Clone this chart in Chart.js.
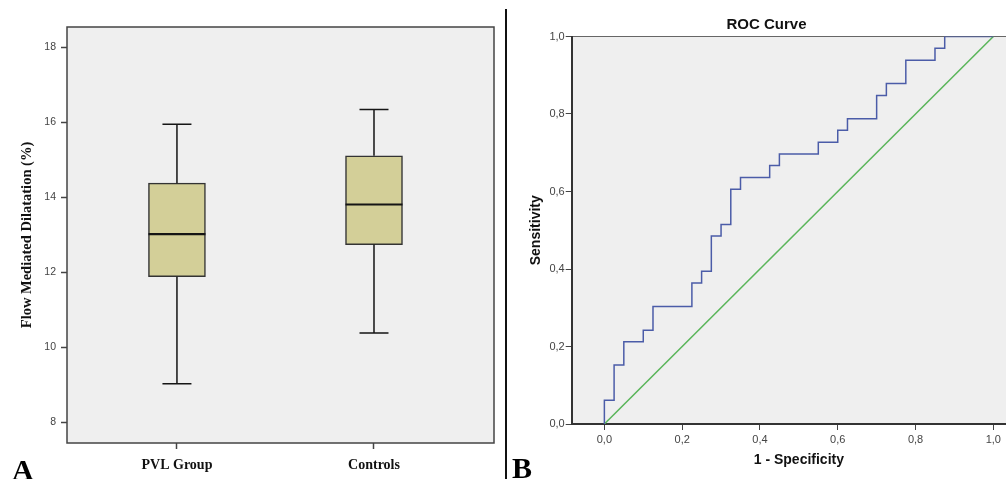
<!DOCTYPE html>
<html>
<head>
<meta charset="utf-8">
<script src="https://cdn.jsdelivr.net/npm/chart.js@4"></script>
<style>
html, body { margin: 0; padding: 0; background: #fff; overflow: hidden; width: 1006px; height: 479px; }
#boxWrap { position: absolute; left: 0; top: 0; width: 500px; height: 479px; }
#rocWrap { position: absolute; left: 507px; top: 0; width: 530px; height: 479px; }
.divider { position: absolute; left: 505px; top: 9px; width: 2px; height: 470px; background: #111; }
.panel { position: absolute; font-family: "Liberation Serif", "Times New Roman", serif; font-weight: bold; font-size: 30px; line-height: 30px; color: #000; }
</style>
</head>
<body>
<div id="boxWrap"><canvas id="boxChart"></canvas></div>
<div id="rocWrap"><canvas id="rocChart"></canvas></div>
<div class="divider"></div>
<div class="panel" style="left:12px; top:455px;">A</div>
<div class="panel" style="left:512px; top:453px;">B</div>
<script>
// panel A - box plot of FMD
const groups = ['PVL Group', 'Controls'];
const groupPos = [1, 2];
const whiskerLow = [9.02, 10.38];
const q1 = [11.88, 12.74];
const median = [13.02, 13.81];
const q3 = [14.38, 15.11];
const whiskerHigh = [15.95, 16.35];
const fmdTicks = [8, 10, 12, 14, 16, 18];

// panel B - ROC curve
const rocFpr = [0, 0, 0.025, 0.05, 0.1, 0.125, 0.225, 0.25, 0.275, 0.3, 0.325, 0.35, 0.425, 0.45, 0.55, 0.6, 0.625, 0.7, 0.725, 0.775, 0.85, 0.875, 1.0];
const rocTpr = [0, 0.061, 0.152, 0.212, 0.242, 0.303, 0.364, 0.394, 0.485, 0.515, 0.606, 0.636, 0.667, 0.697, 0.727, 0.758, 0.788, 0.848, 0.879, 0.939, 0.970, 1.0, 1.0];
const refX = [0, 1];
const refY = [0, 1];
const rocTicks = [0, 0.2, 0.4, 0.6, 0.8, 1.0];

Chart.defaults.font.family = '"Liberation Sans", Arial, sans-serif';
Chart.defaults.animation = false;

const serif = '"Liberation Serif", "Times New Roman", serif';

// grey plot area + frame
const plotBg = {
    id: 'plotBg',
    beforeDraw(chart, args, opts) {
        const { ctx, chartArea: a } = chart;
        ctx.save();
        ctx.fillStyle = opts.color;
        ctx.fillRect(a.left, a.top, a.right - a.left, a.bottom - a.top);
        ctx.strokeStyle = opts.frameColor;
        ctx.lineWidth = opts.frameWidth;
        ctx.strokeRect(a.left, a.top, a.right - a.left, a.bottom - a.top);
        ctx.restore();
    }
};

// whiskers, caps and medians
const whiskers = {
    id: 'whiskers',
    afterDatasetsDraw(chart) {
        const { ctx, scales: { x, y } } = chart;
        const capHalf = 14.5;
        const boxHalf = 28.5;
        ctx.save();
        ctx.strokeStyle = '#151515';
        groupPos.forEach((g, i) => {
            const cx = x.getPixelForValue(g);
            ctx.lineWidth = 1.5;
            ctx.beginPath();
            ctx.moveTo(cx, y.getPixelForValue(q3[i]));
            ctx.lineTo(cx, y.getPixelForValue(whiskerHigh[i]));
            ctx.moveTo(cx, y.getPixelForValue(q1[i]));
            ctx.lineTo(cx, y.getPixelForValue(whiskerLow[i]));
            [whiskerHigh[i], whiskerLow[i]].forEach(v => {
                const py = y.getPixelForValue(v);
                ctx.moveTo(cx - capHalf, py);
                ctx.lineTo(cx + capHalf, py);
            });
            ctx.stroke();
            ctx.lineWidth = 2.2;
            ctx.beginPath();
            const my = y.getPixelForValue(median[i]);
            ctx.moveTo(cx - boxHalf, my);
            ctx.lineTo(cx + boxHalf, my);
            ctx.stroke();
        });
        ctx.restore();
    }
};

new Chart(document.getElementById('boxChart'), {
    type: 'bar',
    data: {
        datasets: [{
            data: groupPos.map((g, i) => ({ x: g, y: [q1[i], q3[i]] })),
            backgroundColor: '#d3cf98',
            borderColor: '#333',
            borderWidth: 1.5,
            borderSkipped: false,
            barThickness: 57
        }]
    },
    options: {
        responsive: true,
        maintainAspectRatio: false,
        layout: { padding: { top: 27, right: 6, left: 0, bottom: 0 } },
        plugins: {
            legend: { display: false },
            tooltip: { enabled: false },
            plotBg: { color: '#efefef', frameColor: '#444', frameWidth: 1.5 }
        },
        scales: {
            x: {
                type: 'linear',
                min: 0.442,
                max: 2.609,
                offset: false,
                afterBuildTicks: s => { s.ticks = groupPos.map(v => ({ value: v })); },
                afterFit: s => { s.height = 36; },
                border: { display: false },
                grid: { drawOnChartArea: false, offset: false, tickLength: 6, color: '#444', tickWidth: 1.5 },
                ticks: {
                    autoSkip: false,
                    maxRotation: 0,
                    padding: 8,
                    color: '#111',
                    font: { family: serif, size: 14, weight: 'bold' },
                    callback: (v, i) => groups[i]
                }
            },
            y: {
                min: 7.44,
                max: 18.55,
                afterBuildTicks: s => { s.ticks = fmdTicks.map(v => ({ value: v })); },
                afterFit: s => { s.width = 67; },
                border: { display: false },
                grid: { drawOnChartArea: false, tickLength: 6, color: '#444', tickWidth: 1.5 },
                ticks: { padding: 5, color: '#444', font: { size: 10.5 } },
                title: {
                    display: true,
                    text: 'Flow Mediated Dilatation (%)',
                    color: '#111',
                    font: { family: serif, size: 14.5, weight: 'bold' },
                    padding: { top: 18.3, bottom: 0 }
                }
            }
        }
    },
    plugins: [plotBg, whiskers]
});

const commaFmt = v => v.toFixed(1).replace('.', ',');

new Chart(document.getElementById('rocChart'), {
    type: 'scatter',
    data: {
        datasets: [{
            data: rocFpr.map((x, i) => ({ x: x, y: rocTpr[i] })),
            showLine: true,
            stepped: 'before',
            borderColor: '#4b5ca8',
            borderWidth: 1.5,
            pointRadius: 0
        }, {
            data: refX.map((x, i) => ({ x: x, y: refY[i] })),
            showLine: true,
            borderColor: '#5ab55a',
            borderWidth: 1.5,
            pointRadius: 0
        }]
    },
    options: {
        responsive: true,
        maintainAspectRatio: false,
        layout: { padding: { top: 0, right: 11, left: 0, bottom: 0 } },
        plugins: {
            legend: { display: false },
            tooltip: { enabled: false },
            title: {
                display: true,
                text: 'ROC Curve',
                color: '#111',
                font: { size: 15, weight: 'bold' },
                padding: { top: 16, bottom: 2.5 }
            },
            plotBg: { color: '#efefef', frameColor: '#666', frameWidth: 1 }
        },
        scales: {
            x: {
                min: -0.084,
                max: 1.084,
                afterBuildTicks: s => { s.ticks = rocTicks.map(v => ({ value: v })); },
                afterFit: s => { s.height = 55; },
                border: { display: true, color: '#333', width: 2 },
                grid: { drawOnChartArea: false, tickLength: 6, color: '#444' },
                ticks: { padding: 3, color: '#444', font: { size: 11 }, callback: commaFmt },
                title: {
                    display: true,
                    text: '1 - Specificity',
                    color: '#111',
                    font: { size: 14, weight: 'bold' },
                    padding: { top: 0, bottom: 10.6 }
                }
            },
            y: {
                min: 0,
                max: 1,
                afterBuildTicks: s => { s.ticks = rocTicks.map(v => ({ value: v })); },
                afterFit: s => { s.width = 64.7; },
                border: { display: true, color: '#333', width: 2 },
                grid: { drawOnChartArea: false, tickLength: 6, color: '#444' },
                ticks: { padding: 1, color: '#444', font: { size: 11 }, callback: commaFmt },
                title: {
                    display: true,
                    text: 'Sensitivity',
                    color: '#111',
                    font: { size: 14, weight: 'bold' },
                    padding: { top: 20.6, bottom: 0 }
                }
            }
        }
    },
    plugins: [plotBg]
});
</script>
</body>
</html>
